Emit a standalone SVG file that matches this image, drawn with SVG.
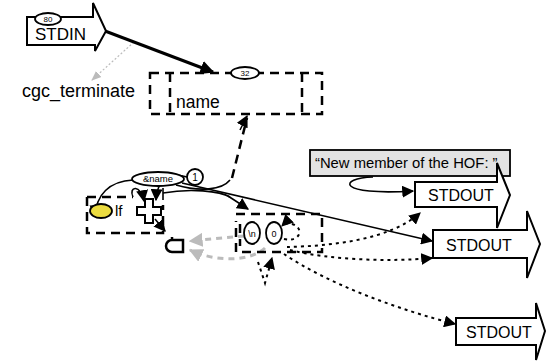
<svg xmlns="http://www.w3.org/2000/svg" width="547" height="363" viewBox="0 0 547 363">
  <defs>
    <style>
      text { font-family: "Liberation Sans", Arial, sans-serif; fill: #000; }
      .lbl { font-size: 16px; }
      .small { font-size: 8px; }
      .blk { fill: #fff; stroke: #000; stroke-width: 2; }
      .dash { fill: none; stroke: #000; stroke-width: 2.5; stroke-dasharray: 9 6; }
      .line { fill: none; stroke: #000; stroke-width: 1.6; }
      .thick { fill: none; stroke: #000; stroke-width: 3; }
      .dot { fill: none; stroke: #000; stroke-width: 2; stroke-dasharray: 3 4; }
      .gdot { fill: none; stroke: #bbb; stroke-width: 1.2; stroke-dasharray: 2 2; }
      .gdash { fill: none; stroke: #bbb; stroke-width: 3; stroke-dasharray: 6 5; }
      .oval { fill: #fff; stroke: #000; stroke-width: 1.8; }
    </style>
    <marker id="ahb" viewBox="0 0 10 10" refX="9" refY="5" markerWidth="14" markerHeight="14" orient="auto" markerUnits="userSpaceOnUse">
      <path d="M0,0 L10,5 L0,10 z" fill="#000"/>
    </marker>
    <marker id="ahm" viewBox="0 0 10 10" refX="9" refY="5" markerWidth="12" markerHeight="12" orient="auto" markerUnits="userSpaceOnUse">
      <path d="M0,0 L10,5 L0,10 z" fill="#000"/>
    </marker>
    <marker id="ahg" viewBox="0 0 10 10" refX="9" refY="5" markerWidth="10" markerHeight="10" orient="auto" markerUnits="userSpaceOnUse">
      <path d="M0,1 L10,5 L0,9 z" fill="#bbb"/>
    </marker>
    <marker id="ahgb" viewBox="0 0 10 10" refX="9" refY="5" markerWidth="14" markerHeight="14" orient="auto" markerUnits="userSpaceOnUse">
      <path d="M0,0 L10,5 L0,10 z" fill="#bbb"/>
    </marker>
  </defs>

  <!-- connectors -->
  <g id="connectors">
    <path class="gdot" d="M134,42 L92,80" marker-end="url(#ahg)"/>
    <path class="thick" d="M105,31 L213,72" marker-end="url(#ahb)"/>
    <path class="line" d="M176,185 C200,192 222,190 230,180"/>
    <path class="dash" d="M232,178 L247,118" stroke-width="2"/>
    <path class="line" d="M240,130 L247,116" marker-end="url(#ahm)"/>
    <path class="line" d="M133,180 C110,181 95,195 96,216" marker-end="url(#ahm)"/>
    <path class="line" d="M182,183 L432,241" marker-end="url(#ahm)"/>
    <path class="line" d="M133,197 C128,186 141,184 144,201" marker-end="url(#ahm)"/>
    <path class="line" d="M187,177 C168,171 157,181 156,200" marker-end="url(#ahm)"/>
    <path class="line" d="M163,193 C190,188 220,191 230,197" stroke-width="2"/>
    <path class="line" d="M228,196 L248,209" marker-end="url(#ahm)"/>
    <path class="line" d="M155,219 L165,231" marker-end="url(#ahm)"/>
    <path class="line" d="M373,177 C338,178 336,196 413,191" marker-end="url(#ahm)"/>
    <path class="gdash" d="M244,236 L190,241" marker-end="url(#ahgb)"/>
    <path class="gdash" d="M265,248 C250,262 215,262 190,250" marker-end="url(#ahgb)"/>
    <path class="dot" d="M284,239 C300,243 305,228 292,224 C287,222 284,224 282,226" marker-end="url(#ahm)"/>
    <path class="dot" d="M258,262 L265,283 L272,258" marker-end="url(#ahm)"/>
    <path class="dot" d="M287,247 C330,246 390,240 420,213" marker-end="url(#ahm)"/>
    <path class="dot" d="M290,250 C330,260 390,262 432,258" marker-end="url(#ahm)"/>
    <path class="dot" d="M284,254 C330,285 400,310 455,324" marker-end="url(#ahm)"/>
  </g>

  <!-- STDIN -->
  <g id="stdin">
    <path class="blk" d="M27,17 H93 V3 L106,31 L95,51 V45 H27 Z"/>
    <ellipse class="oval" cx="48" cy="19" rx="13" ry="6"/>
    <text class="small" x="48" y="22" text-anchor="middle">80</text>
    <text x="35" y="40" font-size="17">STDIN</text>
  </g>

  <g id="cgc_terminate">
    <text x="22" y="97" font-size="18">cgc_terminate</text>
  </g>

  <!-- buffer "name" -->
  <g id="name">
    <rect class="dash" x="150" y="73" width="172" height="41"/>
    <line class="dash" x1="170" y1="73" x2="170" y2="114"/>
    <line class="dash" x1="302" y1="73" x2="302" y2="114"/>
    <ellipse class="oval" cx="245" cy="73" rx="14" ry="6"/>
    <text class="small" x="245" y="76" text-anchor="middle">32</text>
    <text x="176" y="108" font-size="17.5">name</text>
  </g>

  <g id="amp_name">
    <ellipse class="oval" cx="158" cy="179" rx="26" ry="7"/>
    <text x="158" y="182" font-size="9.5" text-anchor="middle">&amp;name</text>
  </g>

  <g id="one">
    <circle class="oval" cx="195" cy="177" r="8"/>
    <text x="195" y="181" font-size="10" text-anchor="middle">1</text>
  </g>

  <!-- lf test -->
  <g id="lf">
    <path class="dash" d="M87,197 H133"/>
    <path class="dash" d="M87,197 V233 H163 V205"/>
    <path class="line" d="M163,188 V200" stroke-width="2.5"/>
    <ellipse cx="101" cy="211" rx="11" ry="7" fill="#ecdc40" stroke="#000" stroke-width="1.8"/>
    <text x="115" y="216" font-size="15">lf</text>
    <path class="blk" stroke-width="2.5" d="M145,199 h8 v8 h8 v8 h-8 v8 h-8 v-8 h-8 v-8 h8 Z"/>
  </g>

  <!-- terminator -->
  <g id="stop">
    <path fill="#fff" stroke="#000" stroke-width="2.5" d="M172,237 V240 A6,6 0 0 0 172,252 H183 V240 H172"/>
  </g>

  <!-- characters -->
  <g id="chars">
    <path class="dash" d="M236,214 H322 V252 H236 V221"/>
    <path class="dash" d="M240,224 V246" stroke-dasharray="10 6"/>
    <ellipse class="oval" stroke-width="2.5" cx="252" cy="233" rx="8" ry="11"/>
    <text x="252" y="237" font-size="9" text-anchor="middle">\n</text>
    <ellipse class="oval" stroke-width="2.5" cx="274" cy="233" rx="8" ry="11"/>
    <text x="274" y="237" font-size="9" text-anchor="middle">0</text>
  </g>

  <g id="hof">
    <rect x="310" y="150" width="200" height="26" fill="#e3e3e3" stroke="#000" stroke-width="1.8"/>
    <text x="315" y="168" font-size="14.8">“New member of the HOF: ”</text>
  </g>

  <g id="stdout1">
    <path class="blk" d="M415,182 H497 V163 L510,195 L497,228 V207 H415 Z"/>
    <text class="lbl" x="428" y="201">STDOUT</text>
  </g>

  <g id="stdout2">
    <path class="blk" d="M433,230 H527 V211 L540,244 L527,278 V258 H433 Z"/>
    <text class="lbl" x="446" y="251">STDOUT</text>
  </g>

  <g id="stdout3">
    <path class="blk" d="M456,318 H536 V303 L545,331 L536,360 V345 H456 Z"/>
    <text class="lbl" x="466" y="338">STDOUT</text>
  </g>
</svg>
